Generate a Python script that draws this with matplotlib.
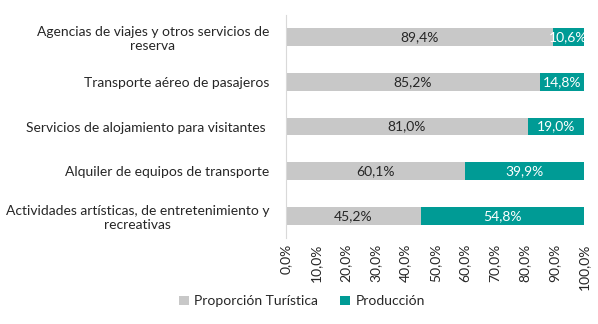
import matplotlib
matplotlib.use("Agg")
import matplotlib.pyplot as plt
import numpy as np

categories = ["Agencias de viajes y otros servicios de\nreserva",
              "Transporte aéreo de pasajeros",
              "Servicios de alojamiento para visitantes ",
              "Alquiler de equipos de transporte",
              "Actividades artísticas, de entretenimiento y\nrecreativas"]
turistica = [89.4, 85.2, 81.0, 60.1, 45.2]
produccion = [10.6, 14.8, 19.0, 39.9, 54.8]
xticks = [0, 10, 20, 30, 40, 50, 60, 70, 80, 90, 100]

plt.rcParams['font.family'] = ['Lato', 'DejaVu Sans']
GRAY = "#C8C8C8"
TEAL = "#009B95"
TXT = "#262626"

fig = plt.figure(figsize=(5.98, 3.24), dpi=100)
ax = fig.add_axes([0.478, 0.265, 0.499, 0.689])
y = np.arange(len(categories))
b1 = ax.barh(y, turistica, height=0.4, color=GRAY, label="Proporción Turística")
b2 = ax.barh(y, produccion, left=turistica, height=0.4, color=TEAL, label="Producción")
for i in range(len(categories)):
    ax.text(turistica[i] / 2, y[i], f"{turistica[i]:.1f}%".replace(".", ","),
            ha="center", va="center", fontsize=10, color=TXT)
    ax.text(turistica[i] + produccion[i] / 2, y[i], f"{produccion[i]:.1f}%".replace(".", ","),
            ha="center", va="center", fontsize=10, color="white")

ax.set_xlim(0, 100)
ax.set_ylim(4.5, -0.5)
ax.set_yticks(y)
ax.set_yticklabels(categories, fontsize=10, color=TXT, multialignment="center")
ax.set_xticks(xticks)
ax.set_xticklabels([f"{v:.1f}%".replace(".", ",") for v in xticks], rotation=90,
                   fontsize=10, color=TXT)
ax.tick_params(axis="both", length=0)
ax.tick_params(axis="y", pad=12)
ax.tick_params(axis="x", pad=4)
for s in ["top", "right", "bottom"]:
    ax.spines[s].set_visible(False)
ax.spines["left"].set_color("#D9D9D9")

fig.legend(handles=[b1, b2], loc="center", bbox_to_anchor=(0.505, 0.07), ncol=2,
           frameon=False, fontsize=10, handlelength=0.7, handleheight=0.7,
           columnspacing=1.6, handletextpad=0.4, labelcolor=TXT)
fig.savefig("out.png", dpi=100)
